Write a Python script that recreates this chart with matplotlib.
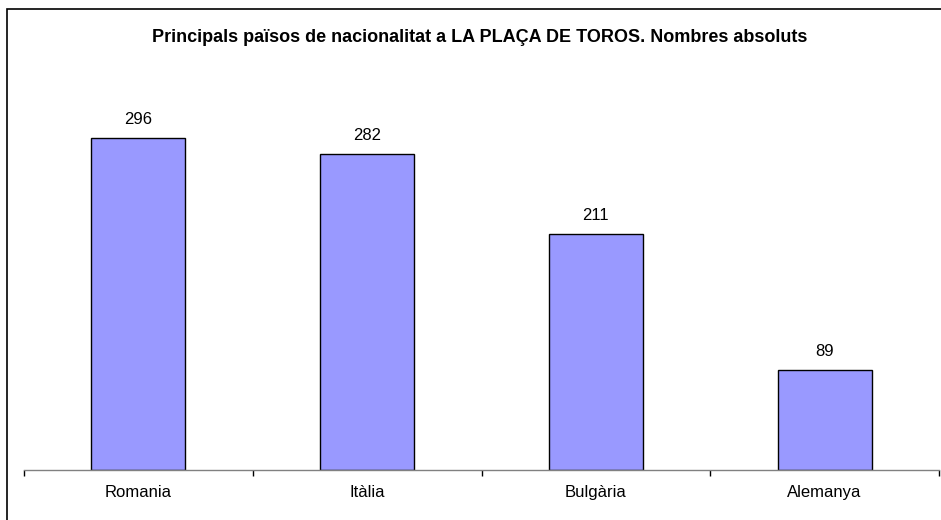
import matplotlib.pyplot as plt
from matplotlib.patches import Rectangle
from matplotlib.ticker import FixedLocator

# principals països de nacionalitat, nombres absoluts
paisos = ['Romania', 'Itàlia', 'Bulgària', 'Alemanya']
valors = [296, 282, 211, 89]

plt.rcParams['font.family'] = ['Liberation Sans', 'DejaVu Sans']

fig = plt.figure(figsize=(9.41, 5.2), dpi=100)
W, H = 941, 520

# area del grafic en pixels
ax = fig.add_axes([24 / W, (H - 470) / H, 915 / W, 392 / H])

x = range(len(paisos))
bars = ax.bar(x, valors, width=0.41, color='#9999FF', edgecolor='black', linewidth=1, zorder=2)

for b, v in zip(bars, valors):
    ax.annotate(str(v), (b.get_x() + b.get_width() / 2, v), xytext=(0, 8),
                textcoords='offset points', ha='center', va='bottom', fontsize=12)

ax.set_xlim(-0.5, len(paisos) - 0.5)
ax.set_ylim(0, 350)

for s in ['top', 'right', 'left']:
    ax.spines[s].set_visible(False)
ax.spines['bottom'].set_color('#808080')
ax.spines['bottom'].set_linewidth(1)
ax.set_yticks([])

ax.set_xticks(list(x))
ax.set_xticklabels(paisos, fontsize=12)
ax.tick_params(axis='x', which='major', length=0, pad=11)
ax.xaxis.set_minor_locator(FixedLocator([i - 0.5 for i in range(len(paisos) + 1)]))
ax.tick_params(axis='x', which='minor', length=4, width=1, color='black')

fig.text(480 / W, 1 - 37 / H, 'Principals països de nacionalitat a LA PLAÇA DE TOROS. Nombres absoluts',
         ha='center', va='center', fontsize=13, fontweight='bold')

# marc exterior
fig.patches.append(Rectangle((7 / W, -0.05), 1.0, 1 - 9 / H + 0.05, transform=fig.transFigure,
                             fill=False, edgecolor='black', linewidth=1.2))

fig.savefig('out.png', dpi=100)
